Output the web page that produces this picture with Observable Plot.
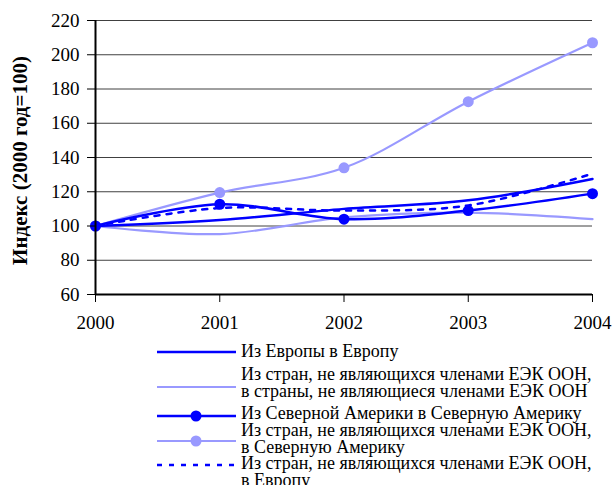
<!DOCTYPE html>
<html>
<head>
<meta charset="utf-8">
<script src="https://cdn.jsdelivr.net/npm/d3@7"></script>
<script src="https://cdn.jsdelivr.net/npm/@observablehq/plot@0.6"></script>
<style>
  body { margin: 0; background: #fff; font-family: 'Liberation Serif', 'Liberation Sans', sans-serif; }
  #wrap { position: relative; width: 614px; height: 485px; overflow: hidden; }
  #legend { position: absolute; left: 0; top: 340px; width: 614px; height: 145px; }
  .lt { position: absolute; left: 241px; font-size: 18px; line-height: 17px; color: #000; white-space: nowrap; font-family: 'Liberation Serif', 'Liberation Sans', sans-serif; }
  .sw { position: absolute; left: 155px; }
  svg text { font-family: 'Liberation Serif', 'Liberation Sans', sans-serif; }
</style>
</head>
<body>
<div id="wrap"><div id="chart"></div><div id="legend"></div></div>
<script>
const years = [2000, 2001, 2002, 2003, 2004];
const yTicks = [60, 80, 100, 120, 140, 160, 180, 200, 220];

const seriesNames = [
  "Из Европы в Европу",
  "Из стран, не являющихся членами ЕЭК ООН,\nв страны, не являющиеся членами ЕЭК ООН",
  "Из Северной Америки в Северную Америку",
  "Из стран, не являющихся членами ЕЭК ООН,\nв Северную Америку",
  "Из стран, не являющихся членами ЕЭК ООН,\nв Европу"
];
const europeToEurope   = [100, 103.5, 110, 115, 127.5];
const nonToNon         = [100, 95.3, 105, 107.8, 104];
const naToNa           = [100, 112.7, 104, 109, 118.9];
const nonToNa          = [100, 119.5, 134, 172.6, 207];
const nonToEurope      = [100, 110.5, 109, 112, 130.6];

const dark = "#0000FF", light = "#9999FF";
const styles = [
  {color: dark,  width: 2.5, dot: false, dash: null},
  {color: light, width: 2.2, dot: false, dash: null},
  {color: dark,  width: 2.5, dot: true,  dash: null},
  {color: light, width: 2.2, dot: true,  dash: null},
  {color: dark,  width: 2.5, dot: false, dash: "5,7"}
];
const allValues = [europeToEurope, nonToNon, naToNa, nonToNa, nonToEurope];
const data = allValues.map((vals, i) => years.map((yr, j) => ({year: yr, value: vals[j], s: i})));

const drawOrder = [1, 3, 0, 2, 4];
const lineMarks = [];
for (const i of drawOrder) {
  const st = styles[i];
  lineMarks.push(Plot.line(data[i], {x: "year", y: "value", curve: "catmull-rom", stroke: st.color, strokeWidth: st.width, strokeDasharray: st.dash}));
  if (st.dot) lineMarks.push(Plot.dot(data[i], {x: "year", y: "value", r: 5.5, fill: st.color, stroke: "none"}));
}

const chart = Plot.plot({
  width: 614,
  height: 340,
  marginLeft: 95,
  marginRight: 22,
  marginTop: 20,
  marginBottom: 46,
  style: {fontFamily: "'Liberation Serif', 'Liberation Sans', sans-serif", fontSize: "20px", color: "#000", background: "#fff"},
  x: {domain: [2000, 2004], label: null},
  y: {domain: [60, 220], label: null},
  marks: [
    Plot.ruleY(yTicks, {stroke: "#000", strokeOpacity: 0.75, strokeWidth: 1}),
    ...lineMarks,
    Plot.ruleX([2000], {y1: 60, y2: 220, stroke: "#000", strokeWidth: 2}),
    Plot.ruleY([60], {x1: 2000, x2: 2004, stroke: "#000", strokeWidth: 2}),
    Plot.axisY(yTicks, {tickSize: 8, tickPadding: 8, fontSize: 19, label: null, tickFormat: d => String(d)}),
    Plot.axisX(years, {tickSize: 8, tickPadding: 13, fontSize: 19, label: null, tickFormat: d => String(d)}),
    Plot.text(["Индекс (2000 год=100)"], {frameAnchor: "left", dx: -75, dy: 3, rotate: -90, fontSize: 21, fontWeight: "bold", textAnchor: "middle"})
  ]
});
document.getElementById("chart").appendChild(chart);

// legend
const legend = document.getElementById("legend");
const textTops = [3, 26, 65, 82, 115];
const swatchY = [12, 47, 76, 101, 125];
seriesNames.forEach((name, i) => {
  const st = styles[i];
  const t = document.createElement("div");
  t.className = "lt";
  t.style.top = textTops[i] + "px";
  t.innerHTML = name.split("\n").join("<br>");
  legend.appendChild(t);
  const svg = d3.create("svg").attr("class", "sw").attr("width", 84).attr("height", 14)
    .style("top", (swatchY[i] - 7) + "px");
  svg.append("line").attr("x1", 2).attr("x2", 81).attr("y1", 7).attr("y2", 7)
    .attr("stroke", st.color).attr("stroke-width", st.width)
    .attr("stroke-dasharray", st.dash);
  if (st.dot) svg.append("circle").attr("cx", 41).attr("cy", 7).attr("r", 5.5).attr("fill", st.color);
  legend.appendChild(svg.node());
});
</script>
</body>
</html>
